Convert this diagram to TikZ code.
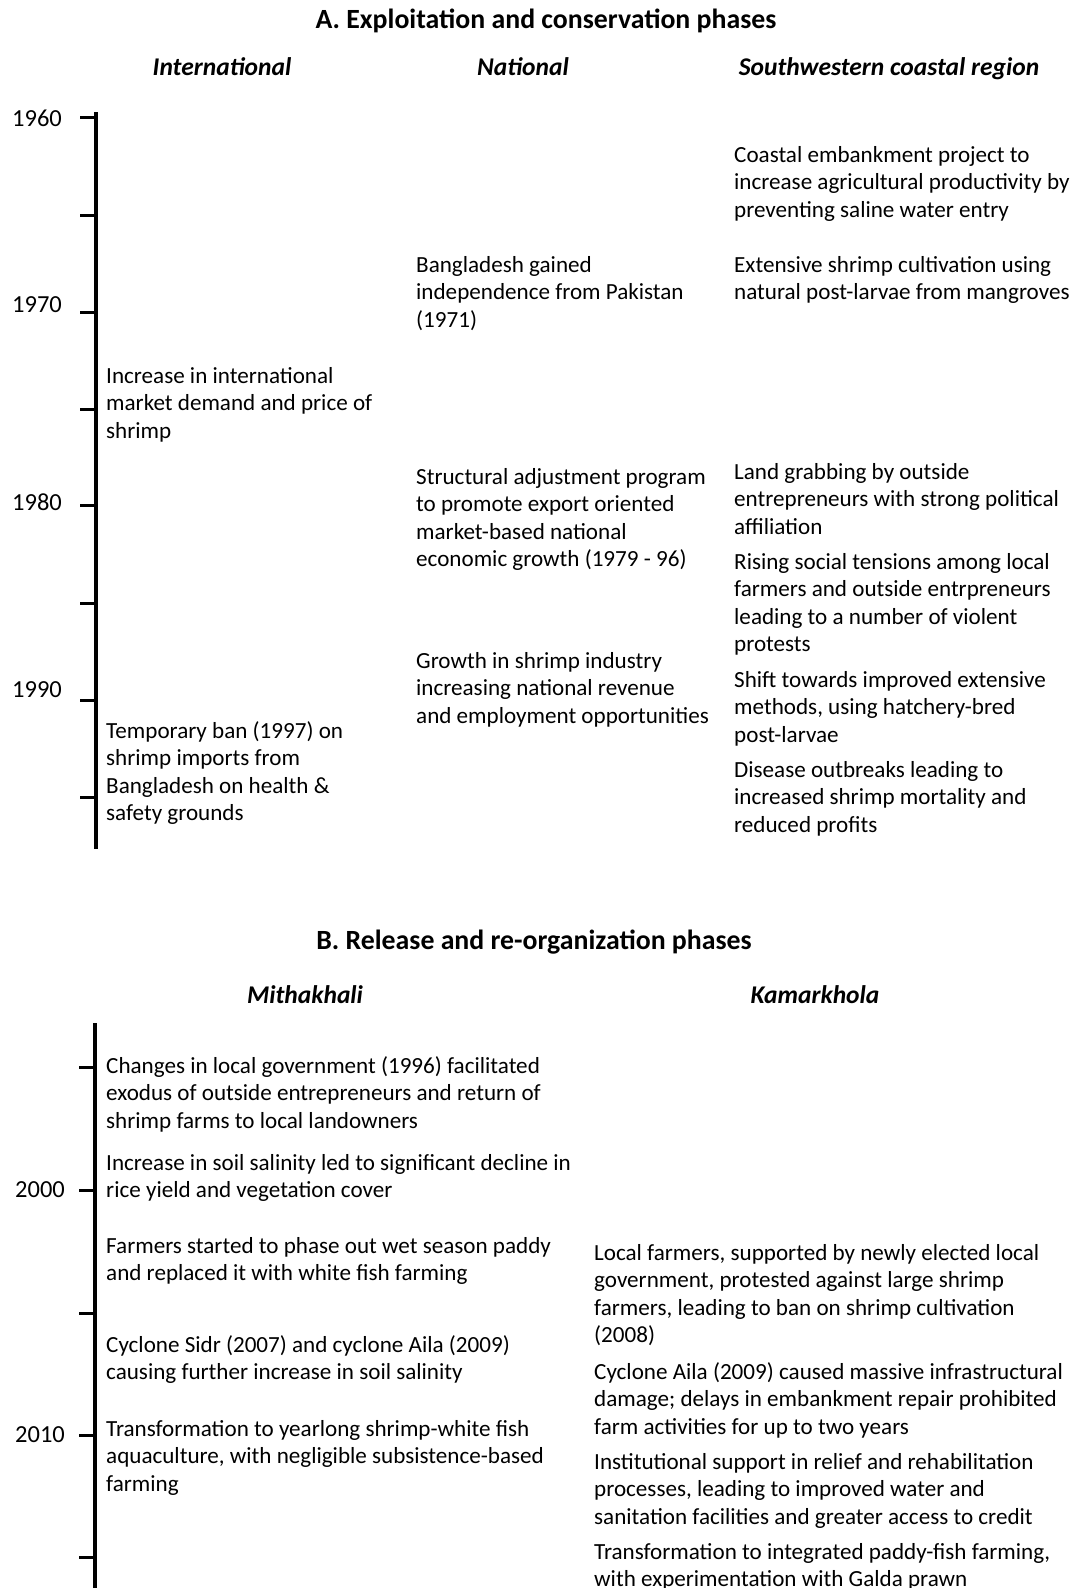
\documentclass[tikz,border=0pt]{standalone}
\usepackage{fontspec}
\setmainfont{Carlito}
\newcommand\mlines[1]{\begin{tabular}[t]{@{}l@{}}#1\end{tabular}}
\begin{document}
\begin{tikzpicture}[x=1pt,y=-1pt,
  body/.style={anchor=base west, inner sep=0pt, font=\fontsize{23.1}{27.6}\selectfont},
  yr/.style={inner sep=0pt, font=\fontsize{24.5}{29}\selectfont},
  ttl/.style={anchor=base, inner sep=0pt, font=\fontsize{27.8}{32}\selectfont\bfseries},
  hdr/.style={anchor=base, inner sep=0pt, font=\fontsize{25.5}{30}\selectfont\bfseries\itshape},
  axisline/.style={line width=4pt},
  tickline/.style={line width=3pt}]
\useasboundingbox (0,0) rectangle (1075,1588);
\clip (0,0) rectangle (1075,1588);

% ---------- Section A ----------
\node[ttl] (tA) at (546,28) {A. Exploitation and conservation phases};
\node[hdr] (hInt) at (222,75) {International};
\node[hdr] (hNat) at (523,75) {National};
\node[hdr] (hSW) at (889,75) {Southwestern coastal region};

\coordinate (aTop) at (96,112);
\coordinate (aBot) at (96,849);
\draw[axisline] (aTop) -- (aBot);
\foreach \y/\n in {117/a1,215/a2,312/a3,409/a4,505/a5,603/a6,700/a7,797/a8}{
  \coordinate (\n s) at (80,\y);
  \coordinate (\n e) at (96,\y);
  \draw[tickline] (\n s) -- (\n e);
}
\node[yr] (y1960) at (37,118) {1960};
\node[yr] (y1970) at (37,305) {1970};
\node[yr] (y1980) at (37,502) {1980};
\node[yr] (y1990) at (37,690) {1990};

\node[body] (i1) at (106,383) {\mlines{Increase in international\\market demand and price of\\shrimp}};
\node[body] (i2) at (106,738) {\mlines{Temporary ban (1997) on\\shrimp imports from\\Bangladesh on health \&\\safety grounds}};

\node[body] (n1) at (416,272) {\mlines{Bangladesh gained\\independence from Pakistan\\(1971)}};
\node[body] (n2) at (416,484) {\mlines{Structural adjustment program\\to promote export oriented\\market-based national\\economic growth (1979 - 96)}};
\node[body] (n3) at (416,668) {\mlines{Growth in shrimp industry\\increasing national revenue\\and employment opportunities}};

\node[body] (s1) at (734,162) {\mlines{Coastal embankment project to\\increase agricultural productivity by\\preventing saline water entry}};
\node[body] (s2) at (734,272) {\mlines{Extensive shrimp cultivation using\\natural post-larvae from mangroves}};
\node[body] (s3) at (734,479) {\mlines{Land grabbing by outside\\entrepreneurs with strong political\\affiliation}};
\node[body] (s4) at (734,569) {\mlines{Rising social tensions among local\\farmers and outside entrpreneurs\\leading to a number of violent\\protests}};
\node[body] (s5) at (734,687) {\mlines{Shift towards improved extensive\\methods, using hatchery-bred\\post-larvae}};
\node[body] (s6) at (734,777) {\mlines{Disease outbreaks leading to\\increased shrimp mortality and\\reduced profits}};

% ---------- Section B ----------
\node[ttl] (tB) at (534,949) {B. Release and re-organization phases};
\node[hdr] (hMit) at (305,1003) {Mithakhali};
\node[hdr] (hKam) at (815,1003) {Kamarkhola};

\coordinate (bTop) at (95,1023);
\coordinate (bBot) at (95,1600);
\draw[axisline] (bTop) -- (bBot);
\foreach \y/\n in {1067/b1,1190/b2,1313/b3,1435/b4,1557/b5}{
  \coordinate (\n s) at (79,\y);
  \coordinate (\n e) at (95,\y);
  \draw[tickline] (\n s) -- (\n e);
}
\node[yr] (y2000) at (40,1190) {2000};
\node[yr] (y2010) at (40,1435) {2010};

\node[body] (m1) at (106,1073) {\mlines{Changes in local government (1996) facilitated\\exodus of outside entrepreneurs and return of\\shrimp farms to local landowners}};
\node[body] (m2) at (106,1170) {\mlines{Increase in soil salinity led to significant decline in\\rice yield and vegetation cover}};
\node[body] (m3) at (106,1253) {\mlines{Farmers started to phase out wet season paddy\\and replaced it with white fish farming}};
\node[body] (m4) at (106,1352) {\mlines{Cyclone Sidr (2007) and cyclone Aila (2009)\\causing further increase in soil salinity}};
\node[body] (m5) at (106,1436) {\mlines{Transformation to yearlong shrimp-white fish\\aquaculture, with negligible subsistence-based\\farming}};

\node[body] (k1) at (594,1260) {\mlines{Local farmers, supported by newly elected local\\government, protested against large shrimp\\farmers, leading to ban on shrimp cultivation\\(2008)}};
\node[body] (k2) at (594,1379) {\mlines{Cyclone Aila (2009) caused massive infrastructural\\damage; delays in embankment repair prohibited\\farm activities for up to two years}};
\node[body] (k3) at (594,1469) {\mlines{Institutional support in relief and rehabilitation\\processes, leading to improved water and\\sanitation facilities and greater access to credit}};
\node[body] (k4) at (594,1559) {\mlines{Transformation to integrated paddy-fish farming,\\with experimentation with Galda prawn}};
\end{tikzpicture}
\end{document}
